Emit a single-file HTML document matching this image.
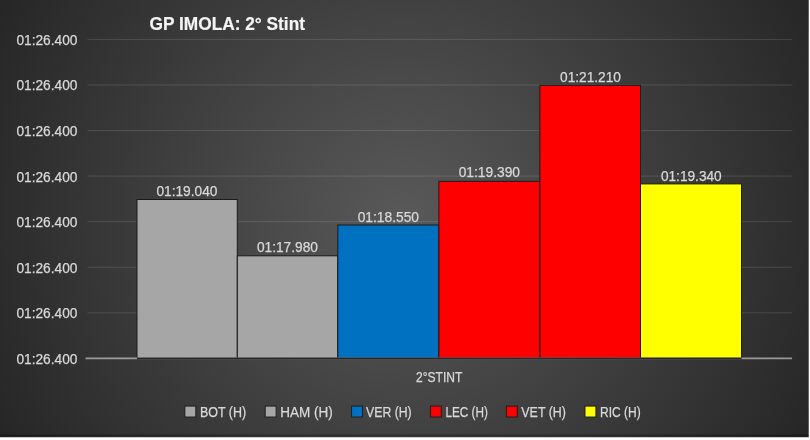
<!DOCTYPE html>
<html><head><meta charset="utf-8"><title>GP IMOLA: 2° Stint</title>
<style>
html,body{margin:0;padding:0;background:#fff;}
body{width:810px;height:440px;overflow:hidden;}
svg{display:block}
text{font-family:"Liberation Sans",Arial,sans-serif;stroke:#d9d9d9;stroke-width:0.25px;}
</style></head><body>
<svg width="810" height="440" viewBox="0 0 810 440">
<defs>
<radialGradient id="bg" gradientUnits="userSpaceOnUse" cx="404.5" cy="218.5" r="460">
<stop offset="0" stop-color="#595959"/>
<stop offset="1" stop-color="#262626"/>
</radialGradient>
</defs>
<rect x="0" y="0" width="810" height="440" fill="#fff"/>
<rect x="0" y="0" width="808.7" height="437.2" fill="url(#bg)"/>
<rect x="0" y="434.2" width="808.7" height="3" fill="#000" fill-opacity="0.2"/>

<line x1="87.5" x2="792" y1="39.40" y2="39.40" stroke="#f2f2f2" stroke-width="1" stroke-opacity="0.14"/>
<line x1="87.5" x2="792" y1="84.97" y2="84.97" stroke="#f2f2f2" stroke-width="1" stroke-opacity="0.14"/>
<line x1="87.5" x2="792" y1="130.54" y2="130.54" stroke="#f2f2f2" stroke-width="1" stroke-opacity="0.14"/>
<line x1="87.5" x2="792" y1="176.11" y2="176.11" stroke="#f2f2f2" stroke-width="1" stroke-opacity="0.14"/>
<line x1="87.5" x2="792" y1="221.68" y2="221.68" stroke="#f2f2f2" stroke-width="1" stroke-opacity="0.14"/>
<line x1="87.5" x2="792" y1="267.25" y2="267.25" stroke="#f2f2f2" stroke-width="1" stroke-opacity="0.14"/>
<line x1="87.5" x2="792" y1="312.82" y2="312.82" stroke="#f2f2f2" stroke-width="1" stroke-opacity="0.14"/>
<text x="16.4" y="44.80" font-size="14.3" fill="#d9d9d9" textLength="61" lengthAdjust="spacingAndGlyphs">01:26.400</text>
<text x="16.4" y="90.37" font-size="14.3" fill="#d9d9d9" textLength="61" lengthAdjust="spacingAndGlyphs">01:26.400</text>
<text x="16.4" y="135.94" font-size="14.3" fill="#d9d9d9" textLength="61" lengthAdjust="spacingAndGlyphs">01:26.400</text>
<text x="16.4" y="181.51" font-size="14.3" fill="#d9d9d9" textLength="61" lengthAdjust="spacingAndGlyphs">01:26.400</text>
<text x="16.4" y="227.08" font-size="14.3" fill="#d9d9d9" textLength="61" lengthAdjust="spacingAndGlyphs">01:26.400</text>
<text x="16.4" y="272.65" font-size="14.3" fill="#d9d9d9" textLength="61" lengthAdjust="spacingAndGlyphs">01:26.400</text>
<text x="16.4" y="318.22" font-size="14.3" fill="#d9d9d9" textLength="61" lengthAdjust="spacingAndGlyphs">01:26.400</text>
<text x="16.4" y="363.79" font-size="14.3" fill="#d9d9d9" textLength="61" lengthAdjust="spacingAndGlyphs">01:26.400</text>
<rect x="137.0" y="199.5" width="100.3" height="158.7" fill="#a6a6a6" stroke="#1a1a1a" stroke-width="1"/>
<rect x="237.3" y="255.8" width="100.5" height="102.4" fill="#a6a6a6" stroke="#1a1a1a" stroke-width="1"/>
<rect x="337.8" y="225.0" width="101.1" height="133.2" fill="#0070c0" stroke="#1a1a1a" stroke-width="1"/>
<rect x="438.9" y="181.3" width="101.0" height="176.9" fill="#ff0000" stroke="#1a1a1a" stroke-width="1"/>
<rect x="539.9" y="85.3" width="100.6" height="272.9" fill="#ff0000" stroke="#1a1a1a" stroke-width="1"/>
<rect x="640.5" y="183.9" width="101.0" height="174.3" fill="#ffff00" stroke="#1a1a1a" stroke-width="1"/>
<text x="156.4" y="196.4" font-size="14.3" fill="#d9d9d9" textLength="61.0" lengthAdjust="spacingAndGlyphs">01:19.040</text>
<text x="256.9" y="252.4" font-size="14.3" fill="#d9d9d9" textLength="61.1" lengthAdjust="spacingAndGlyphs">01:17.980</text>
<text x="357.7" y="221.8" font-size="14.3" fill="#d9d9d9" textLength="61.3" lengthAdjust="spacingAndGlyphs">01:18.550</text>
<text x="458.7" y="177.3" font-size="14.3" fill="#d9d9d9" textLength="61.3" lengthAdjust="spacingAndGlyphs">01:19.390</text>
<text x="560" y="81.7" font-size="14.3" fill="#d9d9d9" textLength="61.0" lengthAdjust="spacingAndGlyphs">01:21.210</text>
<text x="660.9" y="180.5" font-size="14.3" fill="#d9d9d9" textLength="60.8" lengthAdjust="spacingAndGlyphs">01:19.340</text>
<line x1="85.5" x2="792" y1="358.4" y2="358.4" stroke="#f2f2f2" stroke-opacity="0.55" stroke-width="1.6"/>
<rect x="137" y="357.6" width="604.5" height="1.7" fill="#262626"/>
<text x="149.5" y="30" font-size="18" font-weight="bold" fill="#f4f4f4" style="stroke:#f4f4f4;stroke-width:0.2px" textLength="155.5" lengthAdjust="spacingAndGlyphs">GP IMOLA: 2° Stint</text>
<text x="416" y="381.6" font-size="14.3" fill="#d9d9d9" textLength="46.3" lengthAdjust="spacingAndGlyphs">2°STINT</text>
<rect x="184.9" y="406.1" width="10.9" height="10.9" fill="#a6a6a6" stroke="#1a1a1a" stroke-width="0.9"/>
<text x="199.9" y="417.1" font-size="14.3" fill="#d9d9d9" textLength="46.3" lengthAdjust="spacingAndGlyphs">BOT (H)</text>
<rect x="265.2" y="406.1" width="10.9" height="10.9" fill="#a6a6a6" stroke="#1a1a1a" stroke-width="0.9"/>
<text x="280.2" y="417.1" font-size="14.3" fill="#d9d9d9" textLength="52.5" lengthAdjust="spacingAndGlyphs">HAM (H)</text>
<rect x="351.6" y="406.1" width="10.9" height="10.9" fill="#0070c0" stroke="#1a1a1a" stroke-width="0.9"/>
<text x="366" y="417.1" font-size="14.3" fill="#d9d9d9" textLength="45.7" lengthAdjust="spacingAndGlyphs">VER (H)</text>
<rect x="430.4" y="406.1" width="10.9" height="10.9" fill="#ff0000" stroke="#1a1a1a" stroke-width="0.9"/>
<text x="445.4" y="417.1" font-size="14.3" fill="#d9d9d9" textLength="42.6" lengthAdjust="spacingAndGlyphs">LEC (H)</text>
<rect x="506.4" y="406.1" width="10.9" height="10.9" fill="#ff0000" stroke="#1a1a1a" stroke-width="0.9"/>
<text x="521.3" y="417.1" font-size="14.3" fill="#d9d9d9" textLength="44.7" lengthAdjust="spacingAndGlyphs">VET (H)</text>
<rect x="585.0" y="406.1" width="10.9" height="10.9" fill="#ffff00" stroke="#1a1a1a" stroke-width="0.9"/>
<text x="600" y="417.1" font-size="14.3" fill="#d9d9d9" textLength="40.7" lengthAdjust="spacingAndGlyphs">RIC (H)</text>
</svg></body></html>
